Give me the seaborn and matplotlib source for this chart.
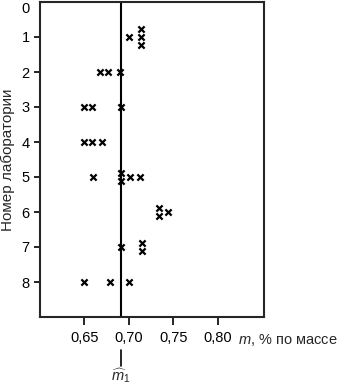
import matplotlib
matplotlib.use("Agg")
import matplotlib.pyplot as plt
import matplotlib.transforms as mtransforms
from matplotlib.lines import Line2D
import pandas as pd
import seaborn as sns

# Data
labs = [1, 1, 1, 1,
        2, 2, 2,
        3, 3, 3,
        4, 4, 4,
        5, 5, 5, 5, 5,
        6, 6, 6,
        7, 7, 7,
        8, 8, 8]
values = [0.700, 0.714, 0.714, 0.714,
          0.668, 0.677, 0.690,
          0.650, 0.659, 0.691,
          0.649, 0.659, 0.670,
          0.660, 0.691, 0.691, 0.701, 0.713,
          0.734, 0.734, 0.744,
          0.691, 0.715, 0.715,
          0.649, 0.679, 0.700]
m1_mean = 0.691
x_ticks = [0.65, 0.70, 0.75, 0.80]
x_tick_labels = ["0,65", "0,70", "0,75", "0,80"]
y_ticks = [0, 1, 2, 3, 4, 5, 6, 7, 8]

df = pd.DataFrame({"lab": labs, "m": values})
# equal results are stacked a little above/below each other
grp = df.groupby(["lab", "m"])
df["n"] = grp["m"].transform("size")
df["i"] = grp.cumcount()
df["y"] = df["lab"] + (df["i"] - (df["n"] - 1) / 2) * 0.22

sns.set_style("ticks")
plt.rcParams["font.family"] = ["Liberation Sans", "DejaVu Sans"]
plt.rcParams["mathtext.fontset"] = "custom"
plt.rcParams["mathtext.it"] = "Liberation Sans:italic"
plt.rcParams["mathtext.rm"] = "Liberation Sans"

fig = plt.figure(figsize=(3.53, 3.85), dpi=100)
ax = fig.add_axes([40 / 353, 1 - 317 / 385, 224 / 353, 315 / 385])

sns.scatterplot(data=df, x="m", y="y", marker="x", color="black",
                s=20, linewidth=1.6, ax=ax, zorder=3)
ax.axvline(m1_mean, color="black", lw=1.5)

ax.set_xlim(0.60, 0.852)
ax.set_ylim(9, 0)
ax.set_xticks(x_ticks)
ax.set_xticklabels(x_tick_labels)
ax.set_yticks(y_ticks)
ax.set_yticklabels([str(t) for t in y_ticks])
ax.yaxis.get_major_ticks()[0].tick1line.set_visible(False)
ax.yaxis.get_major_ticks()[0].label1.set_va("top")

for sp in ax.spines.values():
    sp.set_visible(True)
    sp.set_linewidth(1.5)
ax.tick_params(direction="out", width=1.2, labelsize=10.5, colors="black")
ax.tick_params(axis="x", length=6, pad=4)
ax.tick_params(axis="y", length=4.5, pad=3)

ax.set_xlabel("")
ax.set_ylabel("Номер лаборатории", fontsize=11)
ax.yaxis.set_label_coords(-0.11, 0.5)

fig.text(238 / 353, 1 - 340 / 385, r"$m$, % по массе", fontsize=10.5,
         ha="left", va="center")

# marker of the mean value below the axis
trans = mtransforms.blended_transform_factory(ax.transData, fig.transFigure)
fig.add_artist(Line2D([m1_mean, m1_mean], [1 - 350 / 385, 1 - 366 / 385],
                      transform=trans, color="black", lw=1.2))
fig.text(m1_mean, 1 - 376 / 385, r"$\widehat{m}_1$", transform=trans,
         fontsize=10.5, ha="center", va="center")

fig.savefig("out.png", dpi=100)
